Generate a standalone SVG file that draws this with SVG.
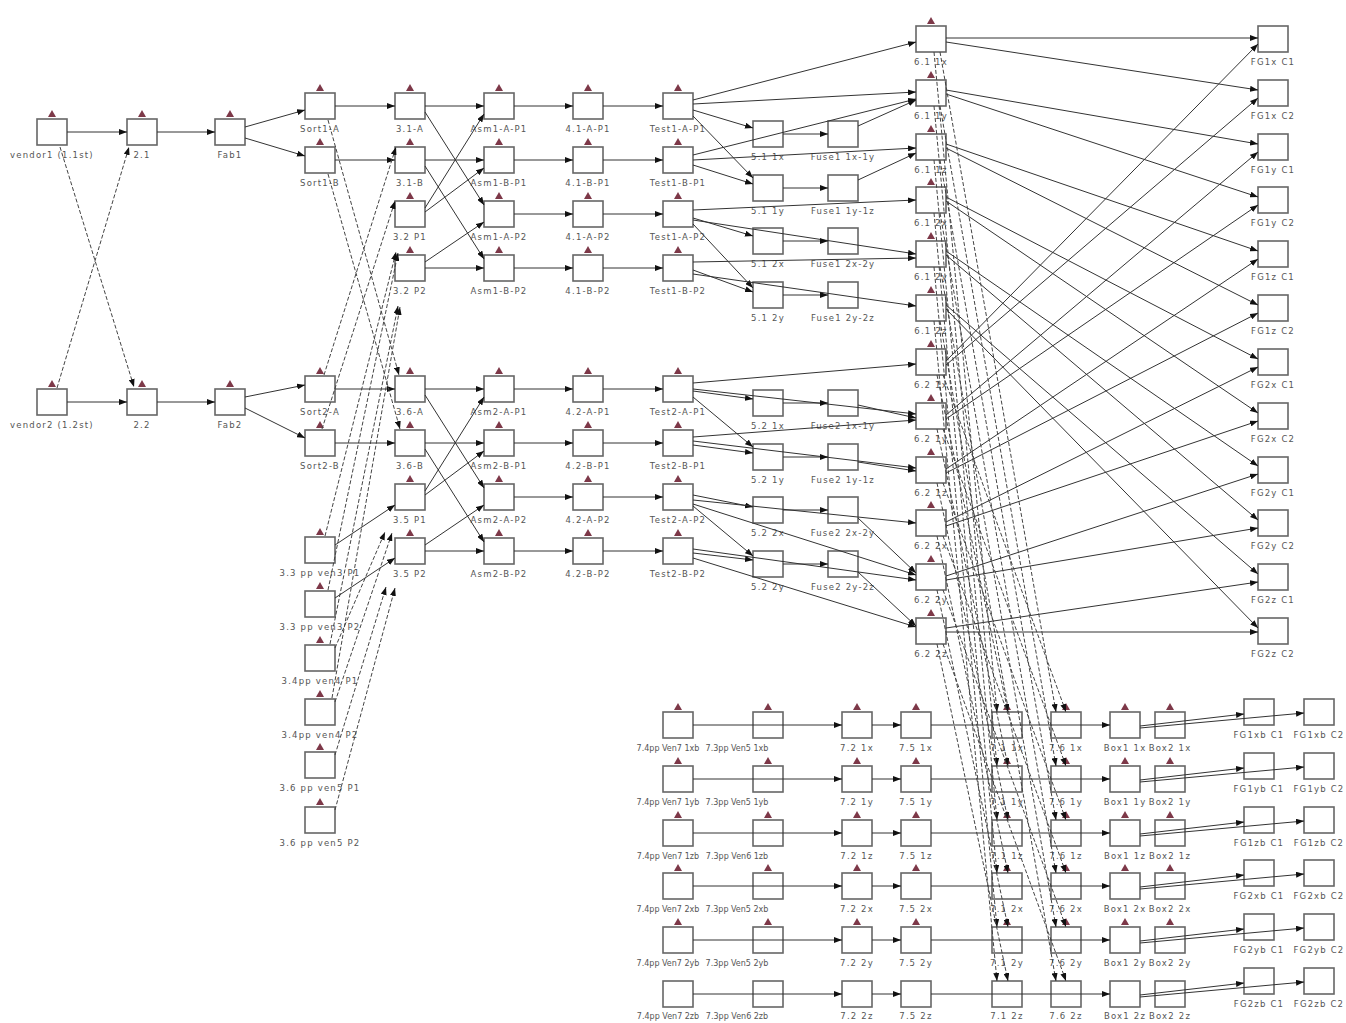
<svg xmlns="http://www.w3.org/2000/svg" width="1346" height="1023" viewBox="0 0 1346 1023">
<style>
.b{fill:#fff;stroke:#666;stroke-width:1.6;width:30px;height:26px}
.m{fill:#7d3848}
.t{font-family:"DejaVu Sans",sans-serif;font-size:8.5px;letter-spacing:1.2px;fill:#555;text-anchor:middle}
.tb{font-family:"DejaVu Sans",sans-serif;font-size:8px;fill:#555;text-anchor:middle}
.e{stroke:#333;stroke-width:1;fill:none;marker-end:url(#a)}
.d{stroke:#444;stroke-width:1;fill:none;stroke-dasharray:4 2;marker-end:url(#a)}
</style>
<defs>
<marker id="a" viewBox="0 0 8 6" refX="8" refY="3" markerWidth="8" markerHeight="6" orient="auto" markerUnits="userSpaceOnUse"><path d="M0 0L8 3L0 6z" fill="#111"/></marker>
</defs>
<rect width="1346" height="1023" fill="#fff"/>
<g id="nodes">
<g id="vendor1"><rect class="b" x="37" y="119"/><path class="m" d="M52 110l-4 7h8z"/><text class="t" x="52" y="158">vendor1 (1.1st)</text></g>
<g id="n2-1"><rect class="b" x="127" y="119"/><path class="m" d="M142 110l-4 7h8z"/><text class="t" x="142" y="158">2.1</text></g>
<g id="fab1"><rect class="b" x="215" y="119"/><path class="m" d="M230 110l-4 7h8z"/><text class="t" x="230" y="158">Fab1</text></g>
<g id="vendor2"><rect class="b" x="37" y="389"/><path class="m" d="M52 380l-4 7h8z"/><text class="t" x="52" y="428">vendor2 (1.2st)</text></g>
<g id="n2-2"><rect class="b" x="127" y="389"/><path class="m" d="M142 380l-4 7h8z"/><text class="t" x="142" y="428">2.2</text></g>
<g id="fab2"><rect class="b" x="215" y="389"/><path class="m" d="M230 380l-4 7h8z"/><text class="t" x="230" y="428">Fab2</text></g>

<g id="sort1-a"><rect class="b" x="305" y="93"/><path class="m" d="M320 84l-4 7h8z"/><text class="t" x="320" y="132">Sort1-A</text></g>
<g id="sort1-b"><rect class="b" x="305" y="147"/><path class="m" d="M320 138l-4 7h8z"/><text class="t" x="320" y="186">Sort1-B</text></g>
<g id="sort2-a"><rect class="b" x="305" y="376"/><path class="m" d="M320 367l-4 7h8z"/><text class="t" x="320" y="415">Sort2-A</text></g>
<g id="sort2-b"><rect class="b" x="305" y="430"/><path class="m" d="M320 421l-4 7h8z"/><text class="t" x="320" y="469">Sort2-B</text></g>
<g id="ven3-p1"><rect class="b" x="305" y="537"/><path class="m" d="M320 528l-4 7h8z"/><text class="t" x="320" y="576">3.3 pp ven3 P1</text></g>
<g id="ven3-p2"><rect class="b" x="305" y="591"/><path class="m" d="M320 582l-4 7h8z"/><text class="t" x="320" y="630">3.3 pp ven3 P2</text></g>
<g id="ven4-p1"><rect class="b" x="305" y="645"/><path class="m" d="M320 636l-4 7h8z"/><text class="t" x="320" y="684">3.4pp ven4 P1</text></g>
<g id="ven4-p2"><rect class="b" x="305" y="699"/><path class="m" d="M320 690l-4 7h8z"/><text class="t" x="320" y="738">3.4pp ven4 P2</text></g>
<g id="ven5-p1"><rect class="b" x="305" y="752"/><path class="m" d="M320 743l-4 7h8z"/><text class="t" x="320" y="791">3.6 pp ven5 P1</text></g>
<g id="ven5-p2"><rect class="b" x="305" y="807"/><path class="m" d="M320 798l-4 7h8z"/><text class="t" x="320" y="846">3.6 pp ven5 P2</text></g>

<g id="n3-1-a"><rect class="b" x="395" y="93"/><path class="m" d="M410 84l-4 7h8z"/><text class="t" x="410" y="132">3.1-A</text></g>
<g id="n3-1-b"><rect class="b" x="395" y="147"/><path class="m" d="M410 138l-4 7h8z"/><text class="t" x="410" y="186">3.1-B</text></g>
<g id="n3-2-p1"><rect class="b" x="395" y="201"/><path class="m" d="M410 192l-4 7h8z"/><text class="t" x="410" y="240">3.2 P1</text></g>
<g id="n3-2-p2"><rect class="b" x="395" y="255"/><path class="m" d="M410 246l-4 7h8z"/><text class="t" x="410" y="294">3.2 P2</text></g>
<g id="n3-6-a"><rect class="b" x="395" y="376"/><path class="m" d="M410 367l-4 7h8z"/><text class="t" x="410" y="415">3.6-A</text></g>
<g id="n3-6-b"><rect class="b" x="395" y="430"/><path class="m" d="M410 421l-4 7h8z"/><text class="t" x="410" y="469">3.6-B</text></g>
<g id="n3-5-p1"><rect class="b" x="395" y="484"/><path class="m" d="M410 475l-4 7h8z"/><text class="t" x="410" y="523">3.5 P1</text></g>
<g id="n3-5-p2"><rect class="b" x="395" y="538"/><path class="m" d="M410 529l-4 7h8z"/><text class="t" x="410" y="577">3.5 P2</text></g>

<g id="asm1-a-p1"><rect class="b" x="484" y="93"/><path class="m" d="M499 84l-4 7h8z"/><text class="t" x="499" y="132">Asm1-A-P1</text></g>
<g id="asm1-b-p1"><rect class="b" x="484" y="147"/><path class="m" d="M499 138l-4 7h8z"/><text class="t" x="499" y="186">Asm1-B-P1</text></g>
<g id="asm1-a-p2"><rect class="b" x="484" y="201"/><path class="m" d="M499 192l-4 7h8z"/><text class="t" x="499" y="240">Asm1-A-P2</text></g>
<g id="asm1-b-p2"><rect class="b" x="484" y="255"/><path class="m" d="M499 246l-4 7h8z"/><text class="t" x="499" y="294">Asm1-B-P2</text></g>
<g id="asm2-a-p1"><rect class="b" x="484" y="376"/><path class="m" d="M499 367l-4 7h8z"/><text class="t" x="499" y="415">Asm2-A-P1</text></g>
<g id="asm2-b-p1"><rect class="b" x="484" y="430"/><path class="m" d="M499 421l-4 7h8z"/><text class="t" x="499" y="469">Asm2-B-P1</text></g>
<g id="asm2-a-p2"><rect class="b" x="484" y="484"/><path class="m" d="M499 475l-4 7h8z"/><text class="t" x="499" y="523">Asm2-A-P2</text></g>
<g id="asm2-b-p2"><rect class="b" x="484" y="538"/><path class="m" d="M499 529l-4 7h8z"/><text class="t" x="499" y="577">Asm2-B-P2</text></g>

<g id="n4-1-a-p1"><rect class="b" x="573" y="93"/><path class="m" d="M588 84l-4 7h8z"/><text class="t" x="588" y="132">4.1-A-P1</text></g>
<g id="n4-1-b-p1"><rect class="b" x="573" y="147"/><path class="m" d="M588 138l-4 7h8z"/><text class="t" x="588" y="186">4.1-B-P1</text></g>
<g id="n4-1-a-p2"><rect class="b" x="573" y="201"/><path class="m" d="M588 192l-4 7h8z"/><text class="t" x="588" y="240">4.1-A-P2</text></g>
<g id="n4-1-b-p2"><rect class="b" x="573" y="255"/><path class="m" d="M588 246l-4 7h8z"/><text class="t" x="588" y="294">4.1-B-P2</text></g>
<g id="n4-2-a-p1"><rect class="b" x="573" y="376"/><path class="m" d="M588 367l-4 7h8z"/><text class="t" x="588" y="415">4.2-A-P1</text></g>
<g id="n4-2-b-p1"><rect class="b" x="573" y="430"/><path class="m" d="M588 421l-4 7h8z"/><text class="t" x="588" y="469">4.2-B-P1</text></g>
<g id="n4-2-a-p2"><rect class="b" x="573" y="484"/><path class="m" d="M588 475l-4 7h8z"/><text class="t" x="588" y="523">4.2-A-P2</text></g>
<g id="n4-2-b-p2"><rect class="b" x="573" y="538"/><path class="m" d="M588 529l-4 7h8z"/><text class="t" x="588" y="577">4.2-B-P2</text></g>

<g id="test1-a-p1"><rect class="b" x="663" y="93"/><path class="m" d="M678 84l-4 7h8z"/><text class="t" x="678" y="132">Test1-A-P1</text></g>
<g id="test1-b-p1"><rect class="b" x="663" y="147"/><path class="m" d="M678 138l-4 7h8z"/><text class="t" x="678" y="186">Test1-B-P1</text></g>
<g id="test1-a-p2"><rect class="b" x="663" y="201"/><path class="m" d="M678 192l-4 7h8z"/><text class="t" x="678" y="240">Test1-A-P2</text></g>
<g id="test1-b-p2"><rect class="b" x="663" y="255"/><path class="m" d="M678 246l-4 7h8z"/><text class="t" x="678" y="294">Test1-B-P2</text></g>
<g id="test2-a-p1"><rect class="b" x="663" y="376"/><path class="m" d="M678 367l-4 7h8z"/><text class="t" x="678" y="415">Test2-A-P1</text></g>
<g id="test2-b-p1"><rect class="b" x="663" y="430"/><path class="m" d="M678 421l-4 7h8z"/><text class="t" x="678" y="469">Test2-B-P1</text></g>
<g id="test2-a-p2"><rect class="b" x="663" y="484"/><path class="m" d="M678 475l-4 7h8z"/><text class="t" x="678" y="523">Test2-A-P2</text></g>
<g id="test2-b-p2"><rect class="b" x="663" y="538"/><path class="m" d="M678 529l-4 7h8z"/><text class="t" x="678" y="577">Test2-B-P2</text></g>

<g id="n5-1-1x"><rect class="b" x="753" y="121"/><text class="t" x="768" y="160">5.1 1x</text></g>
<g id="n5-1-1y"><rect class="b" x="753" y="175"/><text class="t" x="768" y="214">5.1 1y</text></g>
<g id="n5-1-2x"><rect class="b" x="753" y="228"/><text class="t" x="768" y="267">5.1 2x</text></g>
<g id="n5-1-2y"><rect class="b" x="753" y="282"/><text class="t" x="768" y="321">5.1 2y</text></g>
<g id="n5-2-1x"><rect class="b" x="753" y="390"/><text class="t" x="768" y="429">5.2 1x</text></g>
<g id="n5-2-1y"><rect class="b" x="753" y="444"/><text class="t" x="768" y="483">5.2 1y</text></g>
<g id="n5-2-2x"><rect class="b" x="753" y="497"/><text class="t" x="768" y="536">5.2 2x</text></g>
<g id="n5-2-2y"><rect class="b" x="753" y="551"/><text class="t" x="768" y="590">5.2 2y</text></g>

<g id="fuse1-1x-1y"><rect class="b" x="828" y="121"/><text class="t" x="843" y="160">Fuse1 1x-1y</text></g>
<g id="fuse1-1y-1z"><rect class="b" x="828" y="175"/><text class="t" x="843" y="214">Fuse1 1y-1z</text></g>
<g id="fuse1-2x-2y"><rect class="b" x="828" y="228"/><text class="t" x="843" y="267">Fuse1 2x-2y</text></g>
<g id="fuse1-2y-2z"><rect class="b" x="828" y="282"/><text class="t" x="843" y="321">Fuse1 2y-2z</text></g>
<g id="fuse2-1x-1y"><rect class="b" x="828" y="390"/><text class="t" x="843" y="429">Fuse2 1x-1y</text></g>
<g id="fuse2-1y-1z"><rect class="b" x="828" y="444"/><text class="t" x="843" y="483">Fuse2 1y-1z</text></g>
<g id="fuse2-2x-2y"><rect class="b" x="828" y="497"/><text class="t" x="843" y="536">Fuse2 2x-2y</text></g>
<g id="fuse2-2y-2z"><rect class="b" x="828" y="551"/><text class="t" x="843" y="590">Fuse2 2y-2z</text></g>

<g id="n6-1-1x"><rect class="b" x="916" y="26"/><path class="m" d="M931 17l-4 7h8z"/><text class="t" x="931" y="65">6.1 1x</text></g>
<g id="n6-1-1y"><rect class="b" x="916" y="80"/><path class="m" d="M931 71l-4 7h8z"/><text class="t" x="931" y="119">6.1 1y</text></g>
<g id="n6-1-1z"><rect class="b" x="916" y="134"/><path class="m" d="M931 125l-4 7h8z"/><text class="t" x="931" y="173">6.1 1z</text></g>
<g id="n6-1-2x"><rect class="b" x="916" y="187"/><path class="m" d="M931 178l-4 7h8z"/><text class="t" x="931" y="226">6.1 2x</text></g>
<g id="n6-1-2y"><rect class="b" x="916" y="241"/><path class="m" d="M931 232l-4 7h8z"/><text class="t" x="931" y="280">6.1 2y</text></g>
<g id="n6-1-2z"><rect class="b" x="916" y="295"/><path class="m" d="M931 286l-4 7h8z"/><text class="t" x="931" y="334">6.1 2z</text></g>
<g id="n6-2-1x"><rect class="b" x="916" y="349"/><path class="m" d="M931 340l-4 7h8z"/><text class="t" x="931" y="388">6.2 1x</text></g>
<g id="n6-2-1y"><rect class="b" x="916" y="403"/><path class="m" d="M931 394l-4 7h8z"/><text class="t" x="931" y="442">6.2 1y</text></g>
<g id="n6-2-1z"><rect class="b" x="916" y="457"/><path class="m" d="M931 448l-4 7h8z"/><text class="t" x="931" y="496">6.2 1z</text></g>
<g id="n6-2-2x"><rect class="b" x="916" y="510"/><path class="m" d="M931 501l-4 7h8z"/><text class="t" x="931" y="549">6.2 2x</text></g>
<g id="n6-2-2y"><rect class="b" x="916" y="564"/><path class="m" d="M931 555l-4 7h8z"/><text class="t" x="931" y="603">6.2 2y</text></g>
<g id="n6-2-2z"><rect class="b" x="916" y="618"/><path class="m" d="M931 609l-4 7h8z"/><text class="t" x="931" y="657">6.2 2z</text></g>

<g id="fg1x-c1"><rect class="b" x="1258" y="26"/><text class="t" x="1273" y="65">FG1x C1</text></g>
<g id="fg1x-c2"><rect class="b" x="1258" y="80"/><text class="t" x="1273" y="119">FG1x C2</text></g>
<g id="fg1y-c1"><rect class="b" x="1258" y="134"/><text class="t" x="1273" y="173">FG1y C1</text></g>
<g id="fg1y-c2"><rect class="b" x="1258" y="187"/><text class="t" x="1273" y="226">FG1y C2</text></g>
<g id="fg1z-c1"><rect class="b" x="1258" y="241"/><text class="t" x="1273" y="280">FG1z C1</text></g>
<g id="fg1z-c2"><rect class="b" x="1258" y="295"/><text class="t" x="1273" y="334">FG1z C2</text></g>
<g id="fg2x-c1"><rect class="b" x="1258" y="349"/><text class="t" x="1273" y="388">FG2x C1</text></g>
<g id="fg2x-c2"><rect class="b" x="1258" y="403"/><text class="t" x="1273" y="442">FG2x C2</text></g>
<g id="fg2y-c1"><rect class="b" x="1258" y="457"/><text class="t" x="1273" y="496">FG2y C1</text></g>
<g id="fg2y-c2"><rect class="b" x="1258" y="510"/><text class="t" x="1273" y="549">FG2y C2</text></g>
<g id="fg2z-c1"><rect class="b" x="1258" y="564"/><text class="t" x="1273" y="603">FG2z C1</text></g>
<g id="fg2z-c2"><rect class="b" x="1258" y="618"/><text class="t" x="1273" y="657">FG2z C2</text></g>

<g id="v7-1xb"><rect class="b" x="663" y="712"/><path class="m" d="M678 703l-4 7h8z"/><text class="tb" x="668" y="751">7.4pp Ven7 1xb</text></g>
<g id="v5-1xb"><rect class="b" x="753" y="712"/><path class="m" d="M768 703l-4 7h8z"/><text class="tb" x="737" y="751">7.3pp Ven5 1xb</text></g>
<g id="n7-2-1x"><rect class="b" x="842" y="712"/><path class="m" d="M857 703l-4 7h8z"/><text class="t" x="857" y="751">7.2 1x</text></g>
<g id="n7-5-1x"><rect class="b" x="901" y="712"/><path class="m" d="M916 703l-4 7h8z"/><text class="t" x="916" y="751">7.5 1x</text></g>
<g id="n7-1-1x"><rect class="b" x="992" y="712"/><path class="m" d="M1007 703l-4 7h8z"/><text class="t" x="1007" y="751">7.1 1x</text></g>
<g id="n7-6-1x"><rect class="b" x="1051" y="712"/><path class="m" d="M1066 703l-4 7h8z"/><text class="t" x="1066" y="751">7.6 1x</text></g>
<g id="box1-1x"><rect class="b" x="1110" y="712"/><path class="m" d="M1125 703l-4 7h8z"/><text class="t" x="1125" y="751">Box1 1x</text></g>
<g id="box2-1x"><rect class="b" x="1155" y="712"/><path class="m" d="M1170 703l-4 7h8z"/><text class="t" x="1170" y="751">Box2 1x</text></g>
<g id="fg1xb-c1"><rect class="b" x="1244" y="699"/><text class="t" x="1259" y="738">FG1xb C1</text></g>
<g id="fg1xb-c2"><rect class="b" x="1304" y="699"/><text class="t" x="1319" y="738">FG1xb C2</text></g>

<g id="v7-1yb"><rect class="b" x="663" y="766"/><path class="m" d="M678 757l-4 7h8z"/><text class="tb" x="668" y="805">7.4pp Ven7 1yb</text></g>
<g id="v5-1yb"><rect class="b" x="753" y="766"/><path class="m" d="M768 757l-4 7h8z"/><text class="tb" x="737" y="805">7.3pp Ven5 1yb</text></g>
<g id="n7-2-1y"><rect class="b" x="842" y="766"/><path class="m" d="M857 757l-4 7h8z"/><text class="t" x="857" y="805">7.2 1y</text></g>
<g id="n7-5-1y"><rect class="b" x="901" y="766"/><path class="m" d="M916 757l-4 7h8z"/><text class="t" x="916" y="805">7.5 1y</text></g>
<g id="n7-1-1y"><rect class="b" x="992" y="766"/><path class="m" d="M1007 757l-4 7h8z"/><text class="t" x="1007" y="805">7.1 1y</text></g>
<g id="n7-6-1y"><rect class="b" x="1051" y="766"/><path class="m" d="M1066 757l-4 7h8z"/><text class="t" x="1066" y="805">7.6 1y</text></g>
<g id="box1-1y"><rect class="b" x="1110" y="766"/><path class="m" d="M1125 757l-4 7h8z"/><text class="t" x="1125" y="805">Box1 1y</text></g>
<g id="box2-1y"><rect class="b" x="1155" y="766"/><path class="m" d="M1170 757l-4 7h8z"/><text class="t" x="1170" y="805">Box2 1y</text></g>
<g id="fg1yb-c1"><rect class="b" x="1244" y="753"/><text class="t" x="1259" y="792">FG1yb C1</text></g>
<g id="fg1yb-c2"><rect class="b" x="1304" y="753"/><text class="t" x="1319" y="792">FG1yb C2</text></g>

<g id="v7-1zb"><rect class="b" x="663" y="820"/><path class="m" d="M678 811l-4 7h8z"/><text class="tb" x="668" y="859">7.4pp Ven7 1zb</text></g>
<g id="v6-1zb"><rect class="b" x="753" y="820"/><path class="m" d="M768 811l-4 7h8z"/><text class="tb" x="737" y="859">7.3pp Ven6 1zb</text></g>
<g id="n7-2-1z"><rect class="b" x="842" y="820"/><path class="m" d="M857 811l-4 7h8z"/><text class="t" x="857" y="859">7.2 1z</text></g>
<g id="n7-5-1z"><rect class="b" x="901" y="820"/><path class="m" d="M916 811l-4 7h8z"/><text class="t" x="916" y="859">7.5 1z</text></g>
<g id="n7-1-1z"><rect class="b" x="992" y="820"/><path class="m" d="M1007 811l-4 7h8z"/><text class="t" x="1007" y="859">7.1 1z</text></g>
<g id="n7-6-1z"><rect class="b" x="1051" y="820"/><path class="m" d="M1066 811l-4 7h8z"/><text class="t" x="1066" y="859">7.6 1z</text></g>
<g id="box1-1z"><rect class="b" x="1110" y="820"/><path class="m" d="M1125 811l-4 7h8z"/><text class="t" x="1125" y="859">Box1 1z</text></g>
<g id="box2-1z"><rect class="b" x="1155" y="820"/><path class="m" d="M1170 811l-4 7h8z"/><text class="t" x="1170" y="859">Box2 1z</text></g>
<g id="fg1zb-c1"><rect class="b" x="1244" y="807"/><text class="t" x="1259" y="846">FG1zb C1</text></g>
<g id="fg1zb-c2"><rect class="b" x="1304" y="807"/><text class="t" x="1319" y="846">FG1zb C2</text></g>

<g id="v7-2xb"><rect class="b" x="663" y="873"/><path class="m" d="M678 864l-4 7h8z"/><text class="tb" x="668" y="912">7.4pp Ven7 2xb</text></g>
<g id="v5-2xb"><rect class="b" x="753" y="873"/><path class="m" d="M768 864l-4 7h8z"/><text class="tb" x="737" y="912">7.3pp Ven5 2xb</text></g>
<g id="n7-2-2x"><rect class="b" x="842" y="873"/><path class="m" d="M857 864l-4 7h8z"/><text class="t" x="857" y="912">7.2 2x</text></g>
<g id="n7-5-2x"><rect class="b" x="901" y="873"/><path class="m" d="M916 864l-4 7h8z"/><text class="t" x="916" y="912">7.5 2x</text></g>
<g id="n7-1-2x"><rect class="b" x="992" y="873"/><path class="m" d="M1007 864l-4 7h8z"/><text class="t" x="1007" y="912">7.1 2x</text></g>
<g id="n7-6-2x"><rect class="b" x="1051" y="873"/><path class="m" d="M1066 864l-4 7h8z"/><text class="t" x="1066" y="912">7.6 2x</text></g>
<g id="box1-2x"><rect class="b" x="1110" y="873"/><path class="m" d="M1125 864l-4 7h8z"/><text class="t" x="1125" y="912">Box1 2x</text></g>
<g id="box2-2x"><rect class="b" x="1155" y="873"/><path class="m" d="M1170 864l-4 7h8z"/><text class="t" x="1170" y="912">Box2 2x</text></g>
<g id="fg2xb-c1"><rect class="b" x="1244" y="860"/><text class="t" x="1259" y="899">FG2xb C1</text></g>
<g id="fg2xb-c2"><rect class="b" x="1304" y="860"/><text class="t" x="1319" y="899">FG2xb C2</text></g>

<g id="v7-2yb"><rect class="b" x="663" y="927"/><path class="m" d="M678 918l-4 7h8z"/><text class="tb" x="668" y="966">7.4pp Ven7 2yb</text></g>
<g id="v5-2yb"><rect class="b" x="753" y="927"/><path class="m" d="M768 918l-4 7h8z"/><text class="tb" x="737" y="966">7.3pp Ven5 2yb</text></g>
<g id="n7-2-2y"><rect class="b" x="842" y="927"/><path class="m" d="M857 918l-4 7h8z"/><text class="t" x="857" y="966">7.2 2y</text></g>
<g id="n7-5-2y"><rect class="b" x="901" y="927"/><path class="m" d="M916 918l-4 7h8z"/><text class="t" x="916" y="966">7.5 2y</text></g>
<g id="n7-1-2y"><rect class="b" x="992" y="927"/><path class="m" d="M1007 918l-4 7h8z"/><text class="t" x="1007" y="966">7.1 2y</text></g>
<g id="n7-6-2y"><rect class="b" x="1051" y="927"/><path class="m" d="M1066 918l-4 7h8z"/><text class="t" x="1066" y="966">7.6 2y</text></g>
<g id="box1-2y"><rect class="b" x="1110" y="927"/><path class="m" d="M1125 918l-4 7h8z"/><text class="t" x="1125" y="966">Box1 2y</text></g>
<g id="box2-2y"><rect class="b" x="1155" y="927"/><path class="m" d="M1170 918l-4 7h8z"/><text class="t" x="1170" y="966">Box2 2y</text></g>
<g id="fg2yb-c1"><rect class="b" x="1244" y="914"/><text class="t" x="1259" y="953">FG2yb C1</text></g>
<g id="fg2yb-c2"><rect class="b" x="1304" y="914"/><text class="t" x="1319" y="953">FG2yb C2</text></g>

<g id="v7-2zb"><rect class="b" x="663" y="981"/><text class="tb" x="668" y="1019">7.4pp Ven7 2zb</text></g>
<g id="v6-2zb"><rect class="b" x="753" y="981"/><text class="tb" x="737" y="1019">7.3pp Ven6 2zb</text></g>
<g id="n7-2-2z"><rect class="b" x="842" y="981"/><text class="t" x="857" y="1019">7.2 2z</text></g>
<g id="n7-5-2z"><rect class="b" x="901" y="981"/><text class="t" x="916" y="1019">7.5 2z</text></g>
<g id="n7-1-2z"><rect class="b" x="992" y="981"/><text class="t" x="1007" y="1019">7.1 2z</text></g>
<g id="n7-6-2z"><rect class="b" x="1051" y="981"/><text class="t" x="1066" y="1019">7.6 2z</text></g>
<g id="box1-2z"><rect class="b" x="1110" y="981"/><text class="t" x="1125" y="1019">Box1 2z</text></g>
<g id="box2-2z"><rect class="b" x="1155" y="981"/><text class="t" x="1170" y="1019">Box2 2z</text></g>
<g id="fg2zb-c1"><rect class="b" x="1244" y="968"/><text class="t" x="1259" y="1007">FG2zb C1</text></g>
<g id="fg2zb-c2"><rect class="b" x="1304" y="968"/><text class="t" x="1319" y="1007">FG2zb C2</text></g>
</g>

<g id="connectors">
<path class="e" d="M67 132H127"/><path class="e" d="M157 132H215"/>
<path class="e" d="M67 402H127"/><path class="e" d="M157 402H215"/>
<path class="d" d="M60 147L134 387"/><path class="d" d="M57 388L129 147"/>
<path class="e" d="M245 127L305 110"/><path class="e" d="M245 138L305 156"/>
<path class="e" d="M245 397L305 385"/><path class="e" d="M245 408L305 438"/>
<path class="e" d="M335 106H395"/><path class="e" d="M335 160H395"/>
<path class="e" d="M335 389H395"/><path class="e" d="M335 443H395"/>
<path class="d" d="M328 120L399 375"/><path class="d" d="M328 174L400 429"/>
<path class="d" d="M324 375L396 147"/><path class="d" d="M322 429L395 201"/>
<path class="d" d="M325 536L396 252"/><path class="d" d="M328 590L398 253"/>
<path class="d" d="M330 644L398 306"/><path class="d" d="M332 698L400 307"/>
<path class="e" d="M335 545L395 505"/><path class="e" d="M335 598L395 558"/>
<path class="d" d="M335 648L385 532"/><path class="d" d="M335 702L392 533"/>
<path class="d" d="M335 755L386 587"/><path class="d" d="M335 810L395 588"/>

<path class="e" d="M425 106H484"/><path class="e" d="M425 112L484 205"/>
<path class="e" d="M425 160H484"/><path class="e" d="M425 166L484 259"/>
<path class="e" d="M425 208L484 114"/><path class="e" d="M425 212L484 168"/>
<path class="e" d="M425 262L484 222"/><path class="e" d="M425 268H484"/>
<path class="e" d="M425 389H484"/><path class="e" d="M425 395L484 488"/>
<path class="e" d="M425 443H484"/><path class="e" d="M425 449L484 542"/>
<path class="e" d="M425 491L484 397"/><path class="e" d="M425 495L484 451"/>
<path class="e" d="M425 545L484 505"/><path class="e" d="M425 551H484"/>

<path class="e" d="M514 106H573"/><path class="e" d="M514 160H573"/><path class="e" d="M514 214H573"/><path class="e" d="M514 268H573"/>
<path class="e" d="M514 389H573"/><path class="e" d="M514 443H573"/><path class="e" d="M514 497H573"/><path class="e" d="M514 551H573"/>
<path class="e" d="M603 106H663"/><path class="e" d="M603 160H663"/><path class="e" d="M603 214H663"/><path class="e" d="M603 268H663"/>
<path class="e" d="M603 389H663"/><path class="e" d="M603 443H663"/><path class="e" d="M603 497H663"/><path class="e" d="M603 551H663"/>

<path class="e" d="M693 100L916 42"/><path class="e" d="M693 104L916 92"/>
<path class="e" d="M693 110L753 128"/><path class="e" d="M693 116L753 178"/>
<path class="e" d="M693 155L916 99"/><path class="e" d="M693 160L916 148"/>
<path class="e" d="M693 165L753 184"/>
<path class="e" d="M693 210L916 200"/><path class="e" d="M693 218L753 236"/>
<path class="e" d="M693 220L916 254"/><path class="e" d="M693 224L753 288"/>
<path class="e" d="M693 262L916 258"/><path class="e" d="M693 270L753 292"/>
<path class="e" d="M693 274L916 306"/>
<path class="e" d="M783 134H828"/><path class="e" d="M783 188H828"/>
<path class="e" d="M783 241H828"/><path class="e" d="M783 295H828"/>
<path class="e" d="M858 126L916 100"/><path class="e" d="M858 180L916 153"/>

<path class="e" d="M693 383L916 364"/><path class="e" d="M693 391L753 399"/>
<path class="e" d="M693 389L916 414"/><path class="e" d="M693 397L753 447"/>
<path class="e" d="M693 437L916 420"/><path class="e" d="M693 445L753 453"/>
<path class="e" d="M693 441L916 468"/>
<path class="e" d="M693 495L753 507"/><path class="e" d="M693 500L916 523"/>
<path class="e" d="M693 504L916 575"/><path class="e" d="M693 506L753 556"/>
<path class="e" d="M693 549L916 580"/><path class="e" d="M693 553L753 560"/>
<path class="e" d="M693 558L916 627"/>
<path class="e" d="M783 403H828"/><path class="e" d="M783 457H828"/>
<path class="e" d="M783 510H828"/><path class="e" d="M783 564H828"/>
<path class="e" d="M858 405L916 418"/><path class="e" d="M858 462L916 471"/>
<path class="e" d="M858 518L916 573"/><path class="e" d="M858 572L916 626"/>

<path class="e" d="M946 38H1258"/><path class="e" d="M946 42L1258 90"/>
<path class="e" d="M946 361L1258 44"/><path class="e" d="M946 365L1258 98"/>
<path class="e" d="M946 90L1258 144"/><path class="e" d="M946 94L1258 197"/>
<path class="e" d="M946 415L1258 152"/><path class="e" d="M946 419L1258 205"/>
<path class="e" d="M946 144L1258 251"/><path class="e" d="M946 148L1258 305"/>
<path class="e" d="M946 469L1258 259"/><path class="e" d="M946 473L1258 313"/>
<path class="e" d="M946 197L1258 359"/><path class="e" d="M946 201L1258 413"/>
<path class="e" d="M946 522L1258 367"/><path class="e" d="M946 526L1258 421"/>
<path class="e" d="M946 251L1258 466"/><path class="e" d="M946 255L1258 520"/>
<path class="e" d="M946 576L1258 474"/><path class="e" d="M946 580L1258 528"/>
<path class="e" d="M946 305L1258 574"/><path class="e" d="M946 309L1258 628"/>
<path class="e" d="M946 628L1258 582"/><path class="e" d="M946 632H1258"/>

<path class="d" d="M934 52L997 712"/><path class="d" d="M940 52L1056 712"/>
<path class="d" d="M934 106L997 766"/><path class="d" d="M940 106L1056 766"/>
<path class="d" d="M934 160L997 820"/><path class="d" d="M940 160L1056 820"/>
<path class="d" d="M934 213L997 873"/><path class="d" d="M940 213L1056 873"/>
<path class="d" d="M934 267L997 927"/><path class="d" d="M940 267L1056 927"/>
<path class="d" d="M934 321L997 981"/><path class="d" d="M940 321L1056 981"/>
<path class="d" d="M937 375L1008 712"/><path class="d" d="M943 375L1066 712"/>
<path class="d" d="M937 429L1008 766"/><path class="d" d="M943 429L1066 766"/>
<path class="d" d="M937 483L1008 820"/><path class="d" d="M943 483L1066 820"/>
<path class="d" d="M937 536L1008 873"/><path class="d" d="M943 536L1066 873"/>
<path class="d" d="M937 590L1008 927"/><path class="d" d="M943 590L1066 927"/>
<path class="d" d="M937 644L1008 981"/><path class="d" d="M943 644L1066 981"/>

<path class="e" d="M693 725H842"/><path class="e" d="M872 725H901"/><path class="e" d="M931 725H1110"/>
<path class="e" d="M1140 726L1244 714"/><path class="e" d="M1140 728L1304 713"/>
<path class="e" d="M693 779H842"/><path class="e" d="M872 779H901"/><path class="e" d="M931 779H1110"/>
<path class="e" d="M1140 780L1244 768"/><path class="e" d="M1140 782L1304 767"/>
<path class="e" d="M693 833H842"/><path class="e" d="M872 833H901"/><path class="e" d="M931 833H1110"/>
<path class="e" d="M1140 834L1244 822"/><path class="e" d="M1140 836L1304 821"/>
<path class="e" d="M693 886H842"/><path class="e" d="M872 886H901"/><path class="e" d="M931 886H1110"/>
<path class="e" d="M1140 887L1244 875"/><path class="e" d="M1140 889L1304 874"/>
<path class="e" d="M693 940H842"/><path class="e" d="M872 940H901"/><path class="e" d="M931 940H1110"/>
<path class="e" d="M1140 941L1244 929"/><path class="e" d="M1140 943L1304 928"/>
<path class="e" d="M693 994H842"/><path class="e" d="M872 994H901"/><path class="e" d="M931 994H1110"/>
<path class="e" d="M1140 995L1244 983"/><path class="e" d="M1140 997L1304 982"/>
</g>
</svg>
